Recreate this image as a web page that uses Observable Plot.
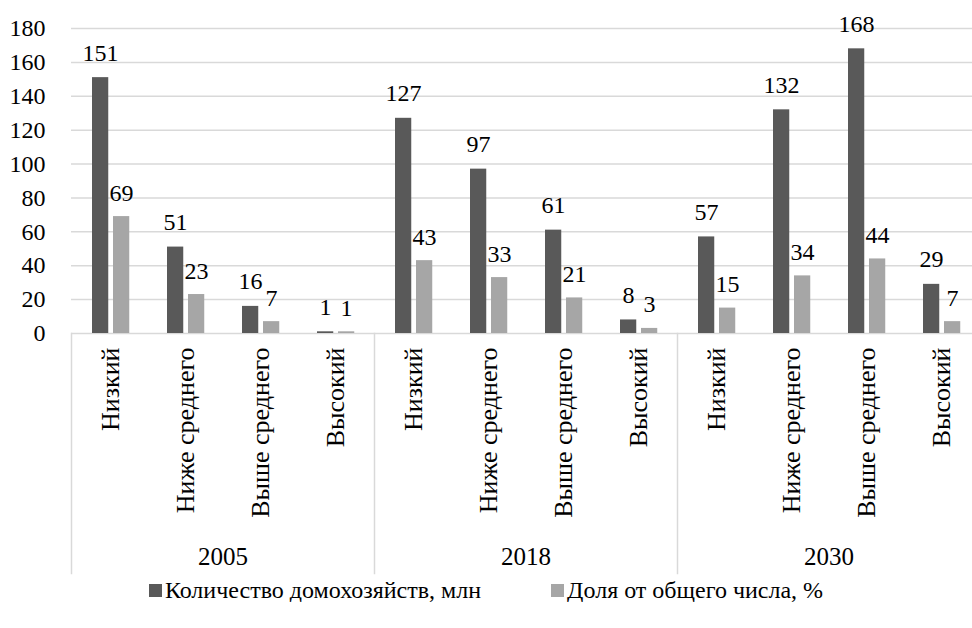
<!DOCTYPE html>
<html><head><meta charset="utf-8">
<script src="https://cdn.jsdelivr.net/npm/d3@7"></script>
<script src="https://cdn.jsdelivr.net/npm/@observablehq/plot@0.6"></script>
<style>
body{margin:0;background:#fff;font-family:"Liberation Serif","Times New Roman","DejaVu Serif",serif;}
#chart svg{overflow:visible;display:block;}
#legend{display:flex;justify-content:center;gap:70px;font-size:24px;line-height:24px;color:#000;}
#legend .item{display:flex;align-items:center;}
#legend .sw{width:13px;height:13px;margin-right:3px;display:inline-block;}
</style></head><body><div id="chart"></div><div id="legend"></div>
<script>
const years = ["2005", "2018", "2030"];
const categories = ["Низкий", "Ниже среднего", "Выше среднего", "Высокий"];
const seriesNames = ["Количество домохозяйств, млн", "Доля от общего числа, %"];
const households = [151, 51, 16, 1, 127, 97, 61, 8, 57, 132, 168, 29];
const shares = [69, 23, 7, 1, 43, 33, 21, 3, 15, 34, 44, 7];
const yTicks = [0, 20, 40, 60, 80, 100, 120, 140, 160, 180];
const colors = ["#595959", "#a6a6a6"];

const rows = households.map((h, i) => ({
  year: years[Math.floor(i / categories.length)],
  cat: categories[i % categories.length],
  households: h,
  share: shares[i]
}));

const W = 972, H = 578, mT = 28, mB = 245, mL = 71, mR = -8;
const plotH = H - mT - mB;
const FONT = "Liberation Serif, Times New Roman, DejaVu Serif, serif";

const chart = Plot.plot({
  width: W, height: H,
  marginTop: mT, marginBottom: mB, marginLeft: mL, marginRight: mR,
  style: {fontFamily: FONT, fontSize: "24px", color: "#000", background: "#fff", overflow: "visible"},
  fx: {domain: years, padding: 0, label: null},
  x: {domain: categories, padding: 0, label: null},
  y: {domain: [0, 180], label: null},
  marks: [
    Plot.ruleY(yTicks, {stroke: "#d9d9d9", strokeWidth: 1.5}),
    Plot.frame({anchor: "left", stroke: "#d9d9d9", strokeWidth: 1.5, insetTop: plotH, insetBottom: -240}),
    Plot.barY(rows, {fx: "year", x: "cat", y: "households", fill: colors[0], insetLeft: 19, insetRight: 39.75}),
    Plot.barY(rows, {fx: "year", x: "cat", y: "share", fill: colors[1], insetLeft: 40, insetRight: 18.75}),
    Plot.text(rows, {fx: "year", x: "cat", y: "households", text: d => String(d.households), dx: -10.4, dy: -17, lineAnchor: "bottom", fontSize: 24, fill: "#000"}),
    Plot.text(rows, {fx: "year", x: "cat", y: "share", text: d => String(d.share), dx: 10.6, dy: -16, lineAnchor: "bottom", fontSize: 24, fill: "#000"}),
    Plot.axisY({ticks: yTicks, tickSize: 0, tickPadding: 26, label: null, fontSize: 24}),
    Plot.axisX({tickRotate: -90, tickSize: 0, tickPadding: 14, label: null, fontSize: 26}),
    Plot.axisFx({anchor: "bottom", tickSize: 0, tickPadding: 214, label: null, fontSize: 25})
  ]
});
document.getElementById("chart").appendChild(chart);

const legend = document.getElementById("legend");
seriesNames.forEach((name, i) => {
  const item = document.createElement("div");
  item.className = "item";
  const sw = document.createElement("span");
  sw.className = "sw";
  sw.style.background = colors[i];
  const t = document.createElement("span");
  t.textContent = name;
  item.appendChild(sw);
  item.appendChild(t);
  legend.appendChild(item);
});
</script>
</body></html>
